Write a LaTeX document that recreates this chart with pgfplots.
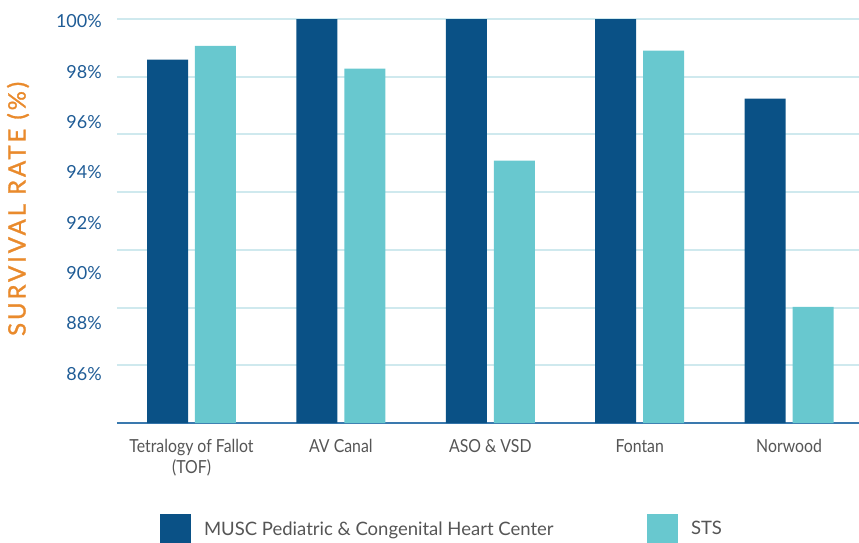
\documentclass[border=0pt]{standalone}
\usepackage{pgfplots}
\pgfplotsset{compat=1.18}
\usepackage{fontspec}
\setmainfont{Lato}
\newfontfamily\labfont{Lato}[LetterSpace=12, FakeBold=1.2]
\newfontfamily\catfont{Lato}[FakeStretch=0.88]
\definecolor{musc}{HTML}{0A5186}
\definecolor{sts}{HTML}{68C8CF}
\definecolor{gridc}{HTML}{CFE9EE}
\definecolor{axisblue}{HTML}{3A79AE}
\definecolor{tickblue}{HTML}{1F5C96}
\definecolor{labor}{HTML}{E98A2C}
\definecolor{greytext}{HTML}{555555}
\begin{document}
\begin{tikzpicture}
\begin{axis}[
  name=ax,
  scale only axis,
  width=742pt, height=404pt,
  xmin=-0.4987, xmax=4.468,
  ymin=86, ymax=100,
  axis x line*=bottom,
  axis y line*=left,
  x axis line style={draw=axisblue, line width=1.8pt},
  y axis line style={draw=none},
  major tick length=0pt,
  xtick={0,1,2,3,4},
  xticklabels={{Tetralogy of Fallot\\(TOF)}, AV Canal, ASO \& VSD, Fontan, Norwood},
  xticklabel style={align=center, anchor=north, inner sep=0pt, yshift=-16pt,
    font=\catfont\fontsize{18}{21}\selectfont, text=greytext},
  ytick={99.94,98.17,96.44,94.69,92.94,91.19,89.46,87.70},
  yticklabels={100\%,98\%,96\%,94\%,92\%,90\%,88\%,86\%},
  yticklabel style={anchor=east, inner sep=0pt, xshift=-15pt,
    font=\fontsize{18}{21}\selectfont, text=tickblue},
  extra y ticks={88,90,92,94,96,98,100},
  extra y tick labels={},
  extra y tick style={grid=major, major grid style={draw=gridc, line width=2pt}},
  ylabel={\labfont SURVIVAL RATE (\%)},
  ylabel style={at={(axis description cs:-0.1334,0.53)}, anchor=center,
    font=\fontsize{24}{26}\selectfont, text=labor},
  legend columns=2,
  legend style={at={(axis description cs:0.058,-0.2252)}, anchor=north west,
    draw=none, fill=none, inner sep=0pt, outer sep=0pt,
    nodes={inner sep=0pt, text=greytext},
    font=\fontsize{18.5}{21}\selectfont,
    /tikz/every odd column/.append style={column sep=13pt},
    /tikz/every even column/.append style={column sep=0pt}},
]
\addplot[ybar, bar width=0.2744, bar shift=-0.1606, fill=musc, draw=none,
  legend image code/.code={\fill[musc] (0pt,-14pt) rectangle (31pt,15pt);}]
  coordinates {(0,98.59) (1,100) (2,100) (3,100) (4,97.24)};
\addlegendentry{\makebox[443pt][l]{MUSC Pediatric \& Congenital Heart Center}}
\addplot[ybar, bar width=0.2744, bar shift=0.1606, fill=sts, draw=none,
  legend image code/.code={\fill[sts] (0pt,-14pt) rectangle (31pt,15pt);}]
  coordinates {(0,99.07) (1,98.28) (2,95.09) (3,98.90) (4,90.02)};
\addlegendentry{STS}
\end{axis}
\pgfresetboundingbox
\path[use as bounding box] (ax.south west) ++(-117pt,-119pt) rectangle ++(859pt,542pt);
\end{tikzpicture}
\end{document}
